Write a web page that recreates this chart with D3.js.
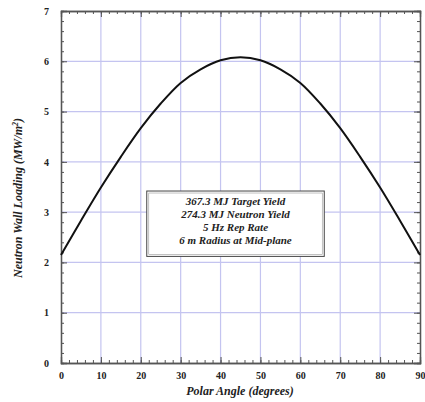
<!DOCTYPE html>
<html><head><meta charset="utf-8">
<script src="https://cdn.jsdelivr.net/npm/d3@7"></script>
<style>body{margin:0;background:#fff}</style>
</head><body>
<svg id="c" width="425" height="402"></svg>
<script>
const angles = [0,5,10,15,20,25,30,35,40,45,50,55,60,65,70,75,80,85,90];
const loading = [2.15,2.83,3.49,4.10,4.67,5.16,5.57,5.84,6.02,6.08,6.02,5.84,5.57,5.16,4.67,4.10,3.49,2.83,2.15];
const xTicks = [0,10,20,30,40,50,60,70,80,90];
const yTicks = [0,1,2,3,4,5,6,7];
const noteLines = ["367.3 MJ Target Yield","274.3 MJ Neutron Yield","5 Hz Rep Rate","6 m Radius at Mid-plane"];
const xTitle = "Polar Angle (degrees)";

const svg = d3.select("#c");
const L=61,R=420,T=11,B=363;
const x = d3.scaleLinear().domain([0,90]).range([L,R]);
const y = d3.scaleLinear().domain([0,7]).range([B,T]);
const font = "'Liberation Serif','Times New Roman',serif";

// grid
svg.append("g").selectAll("line").data(xTicks.slice(1,-1)).join("line")
  .attr("x1",d=>x(d)).attr("x2",d=>x(d)).attr("y1",T).attr("y2",B)
  .attr("stroke","#c4c4f0").attr("stroke-width",1.2);
svg.append("g").selectAll("line").data(yTicks.slice(1,-1)).join("line")
  .attr("y1",d=>y(d)).attr("y2",d=>y(d)).attr("x1",L).attr("x2",R)
  .attr("stroke","#c4c4f0").attr("stroke-width",1.2);

// axes with inward ticks
function ax(axisFn, scale, ticks, minor, tr, showLabels, pad){
  const g = svg.append("g").attr("transform",tr);
  g.call(axisFn(scale).tickValues(minor).tickSize(-3).tickFormat(""));
  const g2 = svg.append("g").attr("transform",tr);
  g2.call(axisFn(scale).tickValues(ticks).tickSize(-6).tickPadding(pad).tickFormat(showLabels? d3.format("d"):""));
  [g,g2].forEach(gg=>{gg.select(".domain").attr("stroke","#555").attr("stroke-width",1.3);
    gg.selectAll("line").attr("stroke","#555");});
  g2.selectAll("text").attr("font-family",font).attr("font-weight","bold").attr("font-size",10).attr("fill","#222");
  return g2;
}
const xMinor = d3.range(0,91,2);
const yMinor = d3.range(0,7.01,0.2);
ax(d3.axisBottom,x,xTicks,xMinor,`translate(0,${B})`,true,9);
ax(d3.axisTop,x,xTicks,xMinor,`translate(0,${T})`,false,8);
ax(d3.axisLeft,y,yTicks,yMinor,`translate(${L},0)`,true,12);
ax(d3.axisRight,y,yTicks,yMinor,`translate(${R},0)`,false,8);

// curve
svg.append("path").datum(angles.map((a,i)=>[a,loading[i]]))
  .attr("d",d3.line().x(d=>x(d[0])).y(d=>y(d[1])).curve(d3.curveCatmullRom))
  .attr("fill","none").attr("stroke","#111").attr("stroke-width",2);

// note box
const bx=x(21.5),bw=x(66)-x(21.5),by=y(3.42),bh=y(2.12)-y(3.42);
svg.append("rect").attr("x",bx).attr("y",by).attr("width",bw).attr("height",bh)
  .attr("fill","#fff").attr("stroke","#444").attr("stroke-width",1);
svg.append("rect").attr("x",bx+2).attr("y",by+2).attr("width",bw-4).attr("height",bh-4)
  .attr("fill","none").attr("stroke","#999").attr("stroke-width",0.6);
svg.append("g").selectAll("text").data(noteLines).join("text")
  .attr("x",bx+bw/2).attr("y",(d,i)=>by+14+i*13)
  .attr("text-anchor","middle").attr("font-family",font).attr("font-style","italic")
  .attr("font-weight","bold").attr("font-size",11).attr("fill","#222").text(d=>d);

// titles
svg.append("text").attr("x",240).attr("y",395).attr("text-anchor","middle")
  .attr("font-family",font).attr("font-style","italic").attr("font-weight","bold")
  .attr("font-size",12).attr("fill","#222").text(xTitle);
const yt = svg.append("text").attr("transform",`translate(22,198) rotate(-90)`)
  .attr("text-anchor","middle").attr("font-family",font).attr("font-style","italic")
  .attr("font-weight","bold").attr("font-size",12).attr("fill","#222");
yt.append("tspan").text("Neutron Wall Loading (MW/m");
yt.append("tspan").attr("font-size",8).attr("dy",-4).text("2");
yt.append("tspan").attr("dy",4).text(")");
</script>
</body></html>
